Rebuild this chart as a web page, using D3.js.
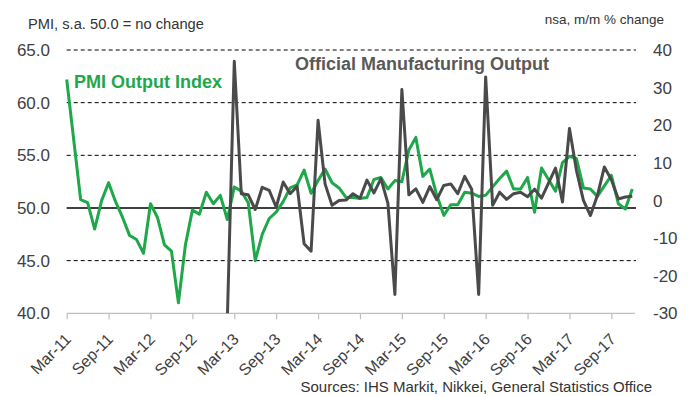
<!DOCTYPE html>
<html>
<head>
<meta charset="utf-8">
<script src="https://cdn.jsdelivr.net/npm/d3@7"></script>
<style>
  body { margin: 0; background: #fff; }
  svg { font-family: "Liberation Sans", Arial, sans-serif; }
</style>
</head>
<body>
<div id="chart"></div>
<script>
// PMI output index, s.a. (Mar-11 .. Dec-17)
var pmiOutput = [
  62.2, 56.5, 50.8, 50.5, 48.0, 50.7, 52.4, 50.6, 49.1, 47.4, 47.0, 45.7,
  50.4, 49.1, 46.5, 45.9, 41.0, 46.5, 49.8, 49.4, 51.5, 50.4, 51.2, 48.9,
  52.0, 51.6, 50.5, 45.0, 47.5, 49.0, 49.6, 50.6, 51.9, 52.2, 53.6, 51.4,
  52.6, 53.7, 52.4, 51.9, 51.0, 51.0, 50.9, 51.0, 52.7, 52.9, 51.8, 52.6,
  52.5, 55.5, 56.7, 53.0, 53.7, 51.2, 49.3, 50.3, 50.3, 51.5, 51.4, 51.1,
  51.2, 52.0, 52.8, 53.5, 51.8, 51.8, 52.9, 49.6, 53.8, 52.7, 51.6, 54.3,
  54.9, 54.7, 51.9, 51.8, 51.1, 52.1, 53.1, 50.4, 49.9, 51.8
];
// official manufacturing output, nsa m/m % (Feb-13 .. Dec-17)
var mfgStart = "Feb-13";
var mfgOutput = [
  -32, 37.0, 1.8, 1.5, -2.4, 3.5, 2.7, -1.8, 4.9, 1.8, 3.8, -11.5,
  -13.5, 21.3, 4.4, -1.3, 0.0, 0.1, 1.8, 0.6, 5.4, 2.0, 5.8, -0.8,
  -25.0, 29.5, 1.5, 3.1, -0.5, 3.7, 0.2, 4.0, 4.4, 1.8, 6.4, 3.0,
  -25.0, 32.8, -1.3, 2.2, 0.3, 1.8, 2.2, 1.0, 3.0, 0.6, 4.6, 8.6,
  -0.4, 19.1, 8.0, 0.0, -4.0, 1.3, 8.9, 5.5, 0.4, 0.9, 1.1
];
var xTickLabels = ["Mar-11", "Sep-11", "Mar-12", "Sep-12", "Mar-13", "Sep-13", "Mar-14",
  "Sep-14", "Mar-15", "Sep-15", "Mar-16", "Sep-16", "Mar-17", "Sep-17"];
var leftTicks = [40, 45, 50, 55, 60, 65];
var rightTicks = [-30, -20, -10, 0, 10, 20, 30, 40];

var width = 692, height = 396;
var plot = { left: 66.7, right: 632.3, top: 50, bottom: 313.3, gridEnd: 636 };
var green = "#1fa84a", grey = "#4a4a4a", textCol = "#404040";

var fmt = d3.timeFormat("%b-%y");
var months = d3.timeMonth.range(new Date(2011, 2, 1), new Date(2018, 0, 1)).map(fmt);

var x = d3.scalePoint().domain(months).range([plot.left, plot.right]);
var yL = d3.scaleLinear().domain([40, 65]).range([plot.bottom, plot.top]);
var yR = d3.scaleLinear().domain([-30, 40]).range([plot.bottom, plot.top]);

var svg = d3.select("#chart").append("svg")
  .attr("width", width)
  .attr("height", height);

svg.append("defs").append("clipPath").attr("id", "plotclip")
  .append("rect")
  .attr("x", plot.left - 5).attr("y", 0)
  .attr("width", plot.gridEnd - plot.left + 10)
  .attr("height", plot.bottom);

// gridlines
svg.append("g").selectAll("line")
  .data(leftTicks.filter(function(d) { return d > 40; }))
  .join("line")
  .attr("x1", plot.left).attr("x2", plot.gridEnd)
  .attr("y1", function(d) { return yL(d); })
  .attr("y2", function(d) { return yL(d); })
  .attr("stroke", "#000")
  .attr("stroke-width", function(d) { return d === 50 ? 1.4 : 1; })
  .attr("stroke-dasharray", function(d) { return d === 50 ? null : "4,3"; });

// x axis
svg.append("line")
  .attr("x1", plot.left).attr("x2", plot.gridEnd - 1)
  .attr("y1", plot.bottom).attr("y2", plot.bottom)
  .attr("stroke", "#bfbfbf").attr("stroke-width", 1.2);

var xAxis = svg.append("g")
  .attr("transform", "translate(0," + plot.bottom + ")")
  .call(d3.axisBottom(x).tickValues(xTickLabels).tickSize(6).tickSizeOuter(0));
xAxis.select(".domain").remove();
xAxis.selectAll(".tick line").attr("stroke", "#bfbfbf").attr("stroke-width", 1.2);
xAxis.selectAll(".tick text")
  .attr("x", -15.6).attr("y", 22.6).attr("dy", 0)
  .attr("text-anchor", "end")
  .attr("transform", "rotate(-45)")
  .attr("fill", textCol)
  .style("font-size", "16px")
  .style("font-family", "'Liberation Sans', Arial, sans-serif");

// left axis labels
svg.append("g").selectAll("text")
  .data(leftTicks)
  .join("text")
  .attr("x", 50)
  .attr("y", function(d) { return yL(d); })
  .attr("dy", "0.36em")
  .attr("text-anchor", "end")
  .attr("fill", textCol)
  .style("font-size", "17px")
  .text(function(d) { return d.toFixed(1); });

// right axis labels
svg.append("g").selectAll("text")
  .data(rightTicks)
  .join("text")
  .attr("x", 653)
  .attr("y", function(d) { return yR(d); })
  .attr("dy", "0.36em")
  .attr("fill", textCol)
  .style("font-size", "17px")
  .text(function(d) { return d; });

// series
var pmiLine = d3.line()
  .x(function(d, i) { return x(months[i]); })
  .y(function(d) { return yL(d); });

var offset = months.indexOf(mfgStart);
var mfgLine = d3.line()
  .x(function(d, i) { return x(months[i + offset]); })
  .y(function(d) { return yR(d); });

var series = svg.append("g").attr("clip-path", "url(#plotclip)");
series.append("path")
  .datum(pmiOutput)
  .attr("d", pmiLine)
  .attr("fill", "none")
  .attr("stroke", green)
  .attr("stroke-width", 3)
  .attr("stroke-linejoin", "round");
series.append("path")
  .datum(mfgOutput)
  .attr("d", mfgLine)
  .attr("fill", "none")
  .attr("stroke", grey)
  .attr("stroke-width", 3)
  .attr("stroke-linejoin", "round");

// labels
svg.append("text")
  .attr("x", 28).attr("y", 29)
  .attr("fill", "#333")
  .style("font-size", "14.7px")
  .text("PMI, s.a. 50.0 = no change");
svg.append("text")
  .attr("x", 664).attr("y", 23.5)
  .attr("text-anchor", "end")
  .attr("fill", "#333")
  .style("font-size", "13.5px")
  .text("nsa, m/m % change");
svg.append("text")
  .attr("x", 74).attr("y", 87.5)
  .attr("fill", green)
  .style("font-size", "18px")
  .style("font-weight", "bold")
  .text("PMI Output Index");
svg.append("text")
  .attr("x", 295).attr("y", 70)
  .attr("fill", "#595959")
  .style("font-size", "18px")
  .style("font-weight", "bold")
  .text("Official Manufacturing Output");
svg.append("text")
  .attr("x", 652).attr("y", 392)
  .attr("text-anchor", "end")
  .attr("fill", "#333")
  .style("font-size", "15px")
  .text("Sources: IHS Markit, Nikkei, General Statistics Office");
</script>
</body>
</html>
